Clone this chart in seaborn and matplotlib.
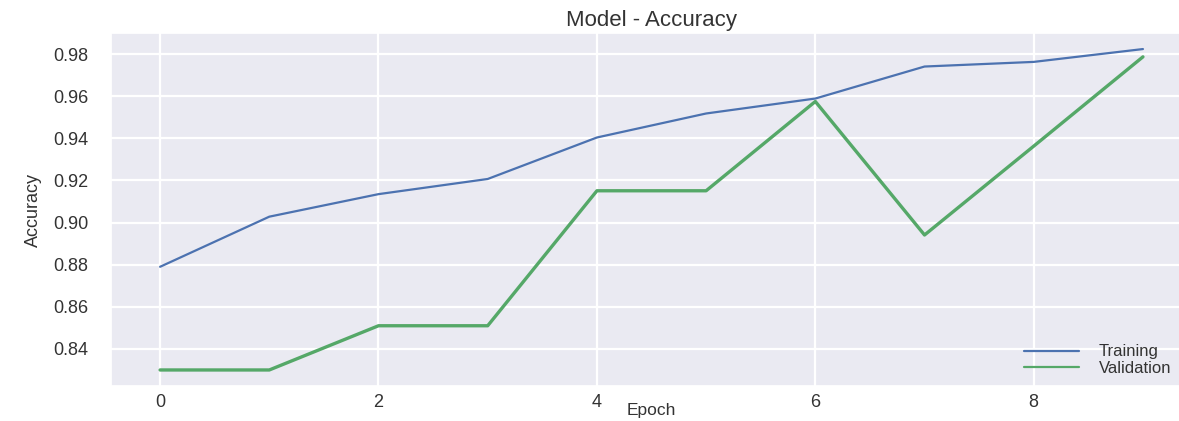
import matplotlib
matplotlib.use("Agg")
import matplotlib.pyplot as plt
import pandas
import seaborn as sns

# Values
epochs = [0, 1, 2, 3, 4, 5, 6, 7, 8, 9]
training = [0.879, 0.9028, 0.9135, 0.9207, 0.9404, 0.9518, 0.9589, 0.9741, 0.9763, 0.9824]
validation = [0.830, 0.830, 0.851, 0.851, 0.9151, 0.9151, 0.9575, 0.8941, 0.9363, 0.9787]
series_names = ["Training", "Validation"]
title = "Model - Accuracy"
xlabel = "Epoch"
ylabel = "Accuracy"


def main():
    sns.set_theme(style="darkgrid", palette="deep")
    plt.rcParams["font.family"] = ["Liberation Sans", "DejaVu Sans"]

    df = pandas.DataFrame(
        {
            "Epoch": epochs * 2,
            "Accuracy": training + validation,
            "series": [series_names[0]] * len(epochs) + [series_names[1]] * len(epochs),
        }
    )

    fig = plt.figure(figsize=(11.79, 4.21), dpi=100)
    ax = fig.add_axes([0.0941, 0.0831, 0.917, 0.8385])

    colors = sns.color_palette("deep")
    widths = {"Training": 1.6, "Validation": 2.4}
    for name, color in zip(series_names, [colors[0], colors[2]]):
        sub = df[df["series"] == name]
        sns.lineplot(data=sub, x="Epoch", y="Accuracy", color=color,
                     linewidth=widths[name], label=name, ax=ax)

    ax.set_title(title, fontsize=16, pad=5, color="#333333")
    ax.set_xlabel(xlabel, fontsize=12.5, labelpad=-6, color="#333333")
    ax.set_ylabel(ylabel, fontsize=13, labelpad=8, color="#333333")
    ax.tick_params(axis="x", labelsize=13, pad=0, labelcolor="#333333")
    ax.tick_params(axis="y", labelsize=13, pad=10, labelcolor="#333333")
    ax.yaxis.set_major_formatter(matplotlib.ticker.FormatStrFormatter("%.2f"))
    ax.grid(color="white", linewidth=1.6)

    leg = ax.legend(loc="lower right", frameon=False, fontsize=12, handlelength=3.3,
                    handletextpad=1.2, borderaxespad=0.2, labelspacing=0.1,
                    bbox_to_anchor=(0.99, 0.0))
    for text in leg.get_texts():
        text.set_color("#333333")
    for line in leg.get_lines():
        line.set_linewidth(1.6)

    fig.savefig("out.png", dpi=100)
    plt.close(fig)


if __name__ == "__main__":
    main()
